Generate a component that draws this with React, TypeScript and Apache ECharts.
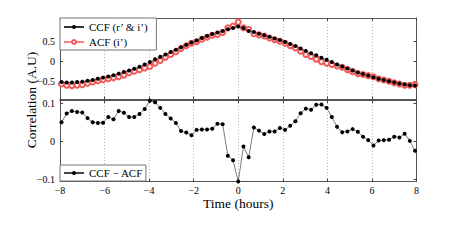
import React, { useEffect, useRef } from 'react';
import * as echarts from 'echarts';

// Lag in hours (14-minute steps)
const lagHours = [
  -7.933, -7.7, -7.467, -7.233, -7.0, -6.767, -6.533, -6.3, -6.067, -5.833,
  -5.6, -5.367, -5.133, -4.9, -4.667, -4.433, -4.2, -3.967, -3.733, -3.5,
  -3.267, -3.033, -2.8, -2.567, -2.333, -2.1, -1.867, -1.633, -1.4, -1.167,
  -0.933, -0.7, -0.467, -0.233, 0,
  0.233, 0.467, 0.7, 0.933, 1.167, 1.4, 1.633, 1.867, 2.1, 2.333,
  2.567, 2.8, 3.033, 3.267, 3.5, 3.733, 3.967, 4.2, 4.433, 4.667,
  4.9, 5.133, 5.367, 5.6, 5.833, 6.067, 6.3, 6.533, 6.767, 7.0,
  7.233, 7.467, 7.7, 7.933,
];

const ccf = [
  -0.52, -0.53, -0.53, -0.52, -0.51, -0.49, -0.47, -0.44, -0.41, -0.38,
  -0.35, -0.31, -0.27, -0.23, -0.19, -0.14, -0.08, -0.02, 0.05, 0.11,
  0.17, 0.23, 0.29, 0.35, 0.41, 0.47, 0.52, 0.58, 0.63, 0.68,
  0.72, 0.76, 0.8, 0.83, 0.87,
  0.83, 0.76, 0.73, 0.69, 0.65, 0.61, 0.57, 0.53, 0.48, 0.43,
  0.38, 0.32, 0.26, 0.2, 0.15, 0.09, 0.04, -0.02, -0.08, -0.13,
  -0.18, -0.23, -0.28, -0.32, -0.36, -0.4, -0.44, -0.47, -0.5, -0.53,
  -0.56, -0.58, -0.6, -0.61,
];

const acf = [
  -0.57, -0.6, -0.61, -0.6, -0.59, -0.55, -0.52, -0.49, -0.46, -0.44,
  -0.41, -0.39, -0.35, -0.29, -0.25, -0.21, -0.17, -0.13, -0.05, 0.02,
  0.1, 0.17, 0.24, 0.32, 0.39, 0.45, 0.49, 0.55, 0.6, 0.65,
  0.67, 0.72, 0.84, 0.88, 0.98,
  0.84, 0.8, 0.69, 0.66, 0.63, 0.58, 0.54, 0.5, 0.45, 0.39,
  0.33, 0.25, 0.17, 0.12, 0.05, -0.01, -0.05, -0.08, -0.12, -0.15,
  -0.21, -0.26, -0.31, -0.33, -0.36, -0.39, -0.44, -0.47, -0.5, -0.54,
  -0.57, -0.6, -0.6, -0.585,
];

const diff = [
  0.05, 0.073, 0.08, 0.077, 0.076, 0.061, 0.05, 0.048, 0.049, 0.064,
  0.058, 0.08, 0.075, 0.064, 0.064, 0.072, 0.085, 0.107, 0.103, 0.088,
  0.072, 0.06, 0.048, 0.027, 0.023, 0.016, 0.03, 0.031, 0.031, 0.033,
  0.046, 0.045, -0.038, -0.05, -0.106,
  -0.014, -0.042, 0.036, 0.028, 0.019, 0.026, 0.026, 0.035, 0.03, 0.041,
  0.053, 0.074, 0.086, 0.083, 0.096, 0.097, 0.088, 0.064, 0.038, 0.024,
  0.026, 0.032, 0.025, 0.012, 0.003, -0.011, 0.002, 0.003, 0.004, 0.012,
  0.01, 0.02, 0.001, -0.025,
];

const topTicks = [-0.5, 0, 0.5];
const bottomTicks = [-0.1, 0, 0.1];

const NAME_CCF = 'CCF (r\u2019 & i\u2019)';
const NAME_ACF = 'ACF (i\u2019)';
const NAME_DIFF = 'CCF \u2212 ACF';

const FONT = '"Liberation Serif", "DejaVu Serif", serif';

const minus = (v: number | string) => String(v).replace('-', '\u2212');

export default function App() {
  const ref = useRef<HTMLDivElement>(null);

  useEffect(() => {
    if (!ref.current) return;
    const chart = echarts.init(ref.current, undefined, { renderer: 'svg' });
    const axisLine = { show: true, onZero: false, lineStyle: { color: '#555', width: 1 } };
    const split = { show: true, lineStyle: { color: '#bbb', type: [1, 2] as any, width: 1 } };
    const xBase = { type: 'value' as const, min: -8, max: 8, interval: 2 };
    const tick = { inside: true, length: 3, lineStyle: { color: '#444' } };

    const option: any = {
      animation: false,
      backgroundColor: '#fff',
      textStyle: { fontFamily: FONT, color: '#000' },
      grid: [
        { left: 60, top: 18, width: 356.5, height: 81.5, show: false },
        { left: 60, top: 100, width: 356.5, height: 81.7, show: false },
      ],
      xAxis: [
        { ...xBase, gridIndex: 0, position: 'bottom', axisLine, axisTick: tick, axisLabel: { show: false }, splitLine: split },
        { ...xBase, gridIndex: 0, position: 'top', axisLine, axisTick: tick, axisLabel: { show: false }, splitLine: { show: false } },
        {
          ...xBase, gridIndex: 1, position: 'bottom', axisLine, axisTick: tick,
          axisLabel: { show: true, fontSize: 10, margin: 4, color: '#000', fontFamily: FONT, showMinLabel: true, showMaxLabel: true, formatter: (v: number) => minus(v) },
          splitLine: split,
          name: 'Time (hours)', nameLocation: 'middle', nameGap: 14,
          nameTextStyle: { fontSize: 13.5, fontFamily: FONT, color: '#000' },
        },
        { ...xBase, gridIndex: 1, position: 'top', axisLine, axisTick: tick, axisLabel: { show: false }, splitLine: { show: false } },
      ],
      yAxis: [
        {
          type: 'value', gridIndex: 0, position: 'left', min: -0.958, max: 1.083, axisLine,
          axisTick: { ...tick, show: true, customValues: topTicks },
          axisLabel: { show: true, customValues: topTicks, showMinLabel: true, showMaxLabel: true, fontSize: 10, margin: 5, color: '#000', fontFamily: FONT, formatter: (v: number) => minus(v) },
          splitLine: { show: false },
        },
        {
          type: 'value', gridIndex: 0, position: 'right', min: -0.958, max: 1.083, axisLine,
          axisTick: { ...tick, show: true, customValues: topTicks },
          axisLabel: { show: false }, splitLine: { show: false },
        },
        {
          type: 'value', gridIndex: 1, position: 'left', min: -0.1065, max: 0.1087, axisLine,
          axisTick: { ...tick, show: true, customValues: bottomTicks },
          axisLabel: { show: true, customValues: bottomTicks, showMinLabel: true, showMaxLabel: true, fontSize: 10, margin: 5, color: '#000', fontFamily: FONT, formatter: (v: number) => minus(v) },
          splitLine: { show: false },
        },
        {
          type: 'value', gridIndex: 1, position: 'right', min: -0.1065, max: 0.1087, axisLine,
          axisTick: { ...tick, show: true, customValues: bottomTicks },
          axisLabel: { show: false }, splitLine: { show: false },
        },
      ],
      legend: [
        {
          data: [NAME_CCF, NAME_ACF], orient: 'vertical', left: 60, top: 18,
          padding: [3, 8, 2, 3], itemGap: 3, itemWidth: 20, itemHeight: 5,
          borderColor: '#777', borderWidth: 1, borderRadius: 0, backgroundColor: '#fff',
          textStyle: { fontSize: 11, lineHeight: 12, fontFamily: FONT, color: '#000' },
        },
        {
          data: [NAME_DIFF], orient: 'vertical', left: 60, top: 165,
          padding: [2, 3, 2, 3], itemGap: 3, itemWidth: 20, itemHeight: 5,
          borderColor: '#777', borderWidth: 1, borderRadius: 0, backgroundColor: '#fff',
          textStyle: { fontSize: 11, lineHeight: 12, fontFamily: FONT, color: '#000' },
        },
      ],
      graphic: [
        {
          type: 'text', x: 31, y: 100, rotation: Math.PI / 2,
          style: { text: 'Correlation (A.U)', fontSize: 13.5, fontFamily: FONT, fill: '#000', textAlign: 'center', textVerticalAlign: 'middle' },
        },
      ],
      series: [
        {
          name: NAME_ACF, type: 'line', xAxisIndex: 0, yAxisIndex: 0,
          data: lagHours.map((t, i) => [t, acf[i]]),
          symbol: 'emptyCircle', symbolSize: 5,
          itemStyle: { color: '#f25a5a', borderColor: '#f25a5a', borderWidth: 0.7 },
          lineStyle: { color: '#f48080', width: 0.6 },
          z: 2,
        },
        {
          name: NAME_CCF, type: 'line', xAxisIndex: 0, yAxisIndex: 0,
          data: lagHours.map((t, i) => [t, ccf[i]]),
          symbol: 'circle', symbolSize: 4,
          itemStyle: { color: '#000' },
          lineStyle: { color: '#333', width: 0.6 },
          z: 3,
        },
        {
          name: NAME_DIFF, type: 'line', xAxisIndex: 2, yAxisIndex: 2,
          data: lagHours.map((t, i) => [t, diff[i]]),
          symbol: 'circle', symbolSize: 4,
          itemStyle: { color: '#000' },
          lineStyle: { color: '#444', width: 0.7 },
          z: 3,
        },
      ],
    };
    chart.setOption(option);
    return () => chart.dispose();
  }, []);

  return (
    <div
      ref={ref}
      style={{ position: 'fixed', left: 0, top: 0, width: 460, height: 241, background: '#fff' }}
    />
  );
}
